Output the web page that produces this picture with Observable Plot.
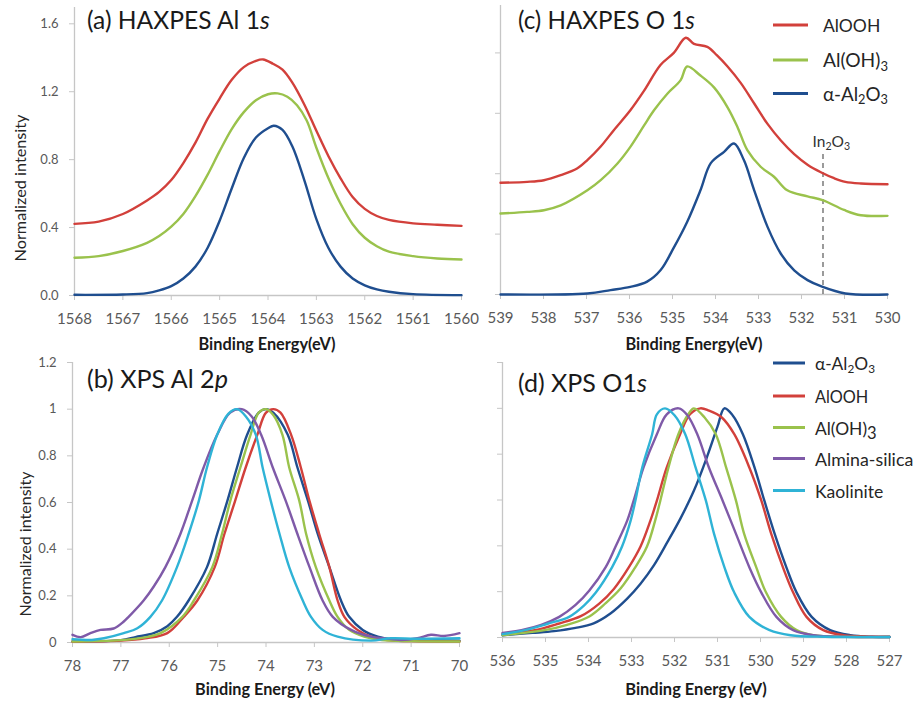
<!DOCTYPE html>
<html><head><meta charset="utf-8">
<script src="https://cdn.jsdelivr.net/npm/d3@7"></script>
<script src="https://cdn.jsdelivr.net/npm/@observablehq/plot@0.6"></script>
<style>
html,body{margin:0;padding:0;background:#fff;}
#wrap{position:relative;width:917px;height:702px;overflow:hidden;font-family:Lato,"Open Sans",sans-serif;}
#wrap svg{position:absolute;}
</style>
</head><body><div id="wrap"></div>
<script>
// ---------- colours ----------
const cBlue = "#1f4e8f", cRed = "#d2403b", cGreen = "#9ac24c", cPurple = "#7f5aa8", cCyan = "#2fb3d6";

// ---------- (a) HAXPES Al 1s ----------
const aTicksX = [1568,1567,1566,1565,1564,1563,1562,1561,1560];
const aTicksY = [0,0.4,0.8,1.2,1.6];
const aE_AlOOH = [1568,1567.5,1567,1566.5,1566.25,1566,1565.75,1565.5,1565.25,1565,1564.75,1564.5,1564.25,1564.1,1563.9,1563.7,1563.5,1563.25,1563,1562.75,1562.5,1562.25,1562,1561.75,1561.5,1561,1560.5,1560];
const aI_AlOOH = [0.422,0.435,0.48,0.56,0.61,0.68,0.78,0.9,1.04,1.16,1.27,1.345,1.382,1.39,1.365,1.33,1.255,1.125,0.97,0.82,0.69,0.58,0.51,0.468,0.445,0.425,0.417,0.41];
const aE_AlOH3 = [1568,1567.5,1567,1566.5,1566.25,1566,1565.75,1565.5,1565.25,1565,1564.75,1564.5,1564.25,1564,1563.8,1563.6,1563.4,1563.2,1563,1562.75,1562.5,1562.25,1562,1561.75,1561.5,1561,1560.5,1560];
const aI_AlOH3 = [0.222,0.232,0.262,0.31,0.35,0.405,0.48,0.585,0.71,0.85,0.98,1.08,1.15,1.185,1.19,1.17,1.12,1.03,0.87,0.69,0.54,0.42,0.34,0.29,0.258,0.232,0.218,0.212];
const aE_Al2O3 = [1568,1567,1566.5,1566.25,1566,1565.75,1565.5,1565.25,1565,1564.75,1564.5,1564.25,1564,1563.88,1563.7,1563.5,1563.25,1563,1562.75,1562.5,1562.25,1562,1561.75,1561.5,1561,1560];
const aI_Al2O3 = [0.004,0.006,0.014,0.03,0.055,0.1,0.17,0.28,0.44,0.63,0.81,0.93,0.985,1.0,0.975,0.88,0.68,0.45,0.28,0.17,0.1,0.06,0.036,0.022,0.008,0.002];

// ---------- (c) HAXPES O 1s ----------
const cTicksX = [539,538,537,536,535,534,533,532,531,530];
const cTicksY = [0,0.4,0.8,1.2,1.6];
const cE_AlOOH = [539,538.38,537.99,537.6,537.22,536.98,536.67,536.36,535.98,535.66,535.28,534.97,534.69,534.5,534.19,533.97,533.72,533.41,533.1,532.79,532.48,532.17,531.86,531.55,531.24,530.98,530.62,530];
const cI_AlOOH = [0.74,0.746,0.757,0.79,0.834,0.89,0.98,1.09,1.22,1.35,1.52,1.60,1.70,1.66,1.64,1.585,1.51,1.40,1.265,1.13,1.02,0.93,0.86,0.81,0.77,0.746,0.735,0.73];
const cE_AlOH3 = [539,538.38,537.99,537.6,536.98,536.67,536.28,535.98,535.66,535.43,535.12,534.81,534.66,534.35,534.03,533.72,533.49,533.26,532.95,532.64,532.33,531.86,531.51,531.01,530.62,530];
const cI_AlOH3 = [0.536,0.547,0.558,0.59,0.69,0.757,0.868,0.978,1.12,1.22,1.33,1.42,1.51,1.45,1.37,1.24,1.11,0.956,0.846,0.78,0.69,0.65,0.625,0.56,0.525,0.521];
const cE_Al2O3 = [539,536.98,536.44,535.98,535.59,535.28,534.97,534.66,534.35,534.11,533.8,533.57,533.34,533.1,532.79,532.48,532.17,531.86,531.55,530.98,530];
const cI_Al2O3 = [0,0.007,0.029,0.05,0.085,0.16,0.31,0.48,0.69,0.87,0.945,1.0,0.89,0.69,0.448,0.27,0.16,0.095,0.055,0.007,0];
const cIn2O3E = 531.5, cIn2O3Top = 0.94;

// ---------- (b) XPS Al 2p ----------
const bTicksX = [78,77,76,75,74,73,72,71,70];
const bTicksY = [0,0.2,0.4,0.6,0.8,1,1.2];
const bE_Al2O3 = [78,77,76.7,76.32,76.04,75.84,75.6,75.22,75.01,74.8,74.6,74.39,74.15,74.0,73.85,73.55,73.35,73.13,72.93,72.69,72.45,72.28,72.0,71.69,71.3,70.5,70];
const bI_Al2O3 = [0.005,0.01,0.023,0.04,0.07,0.11,0.18,0.323,0.465,0.606,0.75,0.89,0.985,1.0,0.985,0.89,0.75,0.606,0.465,0.323,0.18,0.11,0.054,0.025,0.01,0.01,0.008];
const bE_AlOOH = [78,77,76.5,76.04,75.7,75.42,75.06,74.86,74.64,74.42,74.18,74.0,73.85,73.7,73.48,73.28,73.1,72.9,72.69,72.52,72.38,72.11,71.83,71.5,71,70];
const bI_AlOOH = [0.003,0.008,0.018,0.04,0.11,0.18,0.323,0.465,0.606,0.75,0.89,0.985,1.0,0.985,0.89,0.75,0.606,0.465,0.323,0.18,0.11,0.054,0.025,0.01,0.006,0.004];
const bE_AlOH3 = [78,77,76.5,76.18,75.73,75.49,75.11,74.91,74.74,74.53,74.32,74.15,74.0,73.85,73.66,73.52,73.31,73.17,72.97,72.69,72.52,72.28,71.97,71.6,71,70];
const bI_AlOH3 = [0.004,0.01,0.022,0.04,0.11,0.18,0.323,0.465,0.606,0.75,0.89,0.985,1.0,0.975,0.89,0.75,0.606,0.465,0.323,0.18,0.11,0.054,0.025,0.01,0.006,0.004];
const bE_AlSi = [78,77.83,77.63,77.42,77.15,76.94,76.84,76.53,76.32,76.08,75.77,75.53,75.29,75.01,74.74,74.5,74.3,74.1,73.86,73.59,73.35,73.1,72.83,72.62,72.24,71.83,71.55,71.21,70.87,70.59,70.32,70];
const bI_AlSi = [0.033,0.023,0.04,0.054,0.06,0.09,0.11,0.18,0.24,0.323,0.465,0.606,0.75,0.89,0.985,1.0,0.97,0.89,0.75,0.606,0.465,0.323,0.18,0.11,0.054,0.025,0.018,0.011,0.018,0.033,0.028,0.04];
const bE_Kaol = [78,77.6,77.35,76.94,76.66,76.39,76.15,75.84,75.6,75.39,75.22,75.01,74.78,74.6,74.42,74.21,74.07,73.9,73.72,73.52,73.24,73.07,72.83,72.52,71.83,71.42,70.9,70];
const bI_Kaol = [0.014,0.011,0.018,0.04,0.061,0.11,0.18,0.323,0.465,0.606,0.75,0.89,0.98,1.0,0.97,0.89,0.75,0.606,0.465,0.323,0.18,0.11,0.054,0.025,0.008,0.018,0.016,0.018];

// ---------- (d) XPS O1s ----------
const dTicksX = [536,535,534,533,532,531,530,529,528,527];
const dTicksY = [0,0.2,0.4,0.6,0.8,1,1.2];
const dE_Al2O3 = [536,535.3,534.8,534.3,533.88,533.49,533.1,532.79,532.48,532.17,531.86,531.55,531.24,531.0,530.84,530.65,530.41,530.14,529.91,529.67,529.4,529.16,528.81,528.38,527.91,527.4,527];
const dI_Al2O3 = [0.01,0.02,0.028,0.042,0.062,0.105,0.17,0.235,0.315,0.415,0.52,0.64,0.79,0.92,1.0,0.97,0.887,0.742,0.597,0.452,0.307,0.196,0.09,0.032,0.01,0.003,0.002];
const dE_AlOOH = [536,535.25,534.7,534.18,533.75,533.41,533.06,532.79,532.56,532.41,532.18,531.87,531.64,531.4,531.2,530.9,530.61,530.26,529.98,529.75,529.48,529.24,528.93,528.54,528.07,527.5,527];
const dI_AlOOH = [0.015,0.032,0.06,0.093,0.148,0.212,0.307,0.397,0.51,0.597,0.742,0.887,0.974,1.0,0.99,0.96,0.887,0.742,0.597,0.452,0.307,0.196,0.09,0.032,0.01,0.004,0.003];
const dE_AlOH3 = [536,535.02,534.5,533.98,533.6,533.25,532.91,532.64,532.45,532.33,532.14,531.91,531.68,531.55,531.3,531.04,530.8,530.57,530.38,530.1,529.87,529.52,529.16,528.77,528,527];
const dI_AlOH3 = [0.01,0.032,0.055,0.092,0.15,0.215,0.307,0.397,0.51,0.597,0.742,0.887,0.974,1.0,0.96,0.887,0.742,0.597,0.452,0.307,0.196,0.09,0.032,0.01,0.003,0.002];
const dE_AlSi = [536,535.56,535.1,534.68,534.3,533.98,533.6,533.37,533.1,532.95,532.72,532.41,532.18,531.9,531.7,531.47,531.2,530.88,530.57,530.26,529.98,529.63,529.24,528.77,528,527];
const dI_AlSi = [0.02,0.032,0.055,0.09,0.142,0.205,0.307,0.397,0.51,0.597,0.742,0.887,0.974,1.0,0.97,0.887,0.742,0.597,0.452,0.307,0.196,0.09,0.032,0.01,0.003,0.002];
const dE_Kaol = [536,535.48,534.95,534.45,534.1,533.83,533.45,533.22,533.02,532.91,532.75,532.52,532.41,532.22,532.0,531.75,531.51,531.27,531.08,530.84,530.61,530.26,529.79,529.3,528.5,527];
const dI_Kaol = [0.015,0.032,0.06,0.09,0.14,0.196,0.307,0.397,0.51,0.597,0.742,0.887,0.974,1.0,0.97,0.887,0.742,0.597,0.452,0.307,0.196,0.09,0.032,0.01,0.003,0.002];

// ---------- drawing ----------
const wrap = document.getElementById("wrap");
const axisGray = "#c6c6c6", labelGray = "#595959";
function rows(E, I) { return E.map((e, i) => ({e, v: I[i]})); }

function panel(o) {
  const p = Plot.plot({
    width: o.w, height: o.h,
    marginLeft: o.ml, marginRight: o.mr, marginTop: o.mt, marginBottom: o.mb,
    x: {domain: o.xd, label: null},
    y: {domain: o.yd, label: null},
    style: {fontFamily: "Lato, 'Open Sans', sans-serif", background: "transparent", overflow: "visible"},
    marks: [
      Plot.ruleY([o.yd[0]], {stroke: axisGray, strokeWidth: 1.3}),
      Plot.ruleX([o.xd[0]], {stroke: axisGray, strokeWidth: 1.3}),
      Plot.axisX({ticks: o.xt, tickFormat: d => String(d), tickSize: 5, tickPadding: 13, fontSize: 15,
                  stroke: axisGray, fill: labelGray, label: null}),
      Plot.axisY({ticks: o.yt, tickFormat: o.ytf, tickSize: 5, tickPadding: 11, fontSize: 13,
                  stroke: axisGray, fill: labelGray, label: null}),
      ...(o.extra || []),
      ...o.series.map(s => Plot.line(rows(s.E, s.I), {x: "e", y: "v", stroke: s.color, strokeWidth: 2.4,
                                                       curve: "catmull-rom", strokeLinejoin: "round"}))
    ]
  });
  p.style.left = o.x0 + "px";
  p.style.top = o.y0 + "px";
  wrap.appendChild(p);
  return p;
}

const pa = panel({x0: 0, y0: 0, w: 470, h: 340, ml: 74, mr: 9, mt: 7, mb: 45,
  xd: [1568, 1560], yd: [0, 1.696], xt: aTicksX, yt: aTicksY, ytf: d3.format(".1f"),
  series: [{E: aE_AlOOH, I: aI_AlOOH, color: cRed}, {E: aE_AlOH3, I: aI_AlOH3, color: cGreen},
           {E: aE_Al2O3, I: aI_Al2O3, color: cBlue}]});

const pc = panel({x0: 460, y0: 0, w: 457, h: 340, ml: 40, mr: 30, mt: 5, mb: 46,
  xd: [539, 530], yd: [0, 1.914], xt: cTicksX, yt: cTicksY, ytf: () => "",
  extra: [Plot.ruleX([cIn2O3E], {y1: 0, y2: cIn2O3Top, stroke: "#666", strokeWidth: 1.3, strokeDasharray: "5,4"})],
  series: [{E: cE_AlOOH, I: cI_AlOOH, color: cRed}, {E: cE_AlOH3, I: cI_AlOH3, color: cGreen},
           {E: cE_Al2O3, I: cI_Al2O3, color: cBlue}]});

const pb = panel({x0: 0, y0: 340, w: 470, h: 362, ml: 72, mr: 11, mt: 22, mb: 60,
  xd: [78, 70], yd: [0, 1.2], xt: bTicksX, yt: bTicksY, ytf: d => String(d),
  series: [{E: bE_Al2O3, I: bI_Al2O3, color: cBlue}, {E: bE_AlOOH, I: bI_AlOOH, color: cRed},
           {E: bE_AlOH3, I: bI_AlOH3, color: cGreen}, {E: bE_AlSi, I: bI_AlSi, color: cPurple},
           {E: bE_Kaol, I: bI_Kaol, color: cCyan}]});

const pd = panel({x0: 460, y0: 340, w: 457, h: 362, ml: 42, mr: 28, mt: 22, mb: 65,
  xd: [536, 527], yd: [0, 1.2], xt: dTicksX, yt: dTicksY, ytf: () => "",
  series: [{E: dE_Al2O3, I: dI_Al2O3, color: cBlue}, {E: dE_AlOOH, I: dI_AlOOH, color: cRed},
           {E: dE_AlOH3, I: dI_AlOH3, color: cGreen}, {E: dE_AlSi, I: dI_AlSi, color: cPurple},
           {E: dE_Kaol, I: dI_Kaol, color: cCyan}]});

// ---------- text overlay (titles, axis titles, legends) ----------
const ov = d3.select(wrap).append("svg").attr("width", 917).attr("height", 702)
  .style("left", "0px").style("top", "0px").style("pointer-events", "none")
  .attr("font-family", "Lato, 'Open Sans', sans-serif");

function addText(o) {
  const t = ov.append("text").attr("x", o.x).attr("y", o.y)
    .attr("font-size", o.size).attr("fill", o.fill || "#1a1a1a")
    .attr("text-anchor", o.anchor || "start");
  if (o.bold) t.attr("font-weight", "bold");
  if (o.rotate) t.attr("transform", `rotate(-90 ${o.x} ${o.y})`);
  let down = false;
  for (const [s, k] of o.parts) {
    const ts = t.append("tspan").text(s);
    if (k === "i") ts.attr("font-style", "italic");
    if (k === "sub") { ts.attr("font-size", (o.subScale || 0.68) + "em").attr("dy", down ? 0 : "0.28em"); down = true; }
    else if (down) { ts.attr("dy", "-0.19em"); down = false; }
  }
  if (o.w) {
    const len = t.node().getComputedTextLength();
    if (len > 0) t.attr("font-size", o.size * o.w / len);
  }
  return t;
}

// panel titles
addText({x: 87, y: 28.5, size: 24, w: 183, parts: [["(a) HAXPES Al 1", ""], ["s", "i"]]});
addText({x: 518, y: 29, size: 24, w: 177, parts: [["(c) HAXPES O 1", ""], ["s", "i"]]});
addText({x: 87, y: 387.5, size: 24, w: 141, parts: [["(b) XPS Al 2", ""], ["p", "i"]]});
addText({x: 518, y: 391.5, size: 24, w: 129, parts: [["(d) XPS O1", ""], ["s", "i"]]});

// axis titles
addText({x: 267, y: 350, size: 15, w: 137, bold: true, anchor: "middle", parts: [["Binding Energy(eV)", ""]]});
addText({x: 694, y: 350, size: 15, w: 137, bold: true, anchor: "middle", parts: [["Binding Energy(eV)", ""]]});
addText({x: 265, y: 695, size: 15, w: 140, bold: true, anchor: "middle", parts: [["Binding Energy (eV)", ""]]});
addText({x: 696, y: 695, size: 15, w: 141.7, bold: true, anchor: "middle", parts: [["Binding Energy (eV)", ""]]});
addText({x: 25.5, y: 188, size: 15, w: 147, rotate: true, anchor: "middle", fill: "#262626", parts: [["Normalized intensity", ""]]});
addText({x: 31, y: 544, size: 15, w: 145, rotate: true, anchor: "middle", fill: "#262626", parts: [["Normalized intensity", ""]]});

// In2O3 marker label, positioned through panel (c)'s x scale
const xIn = 460 + pc.scale("x").apply(cIn2O3E);
addText({x: xIn - 10, y: 146.7, size: 13, w: 37.6, fill: "#333", parts: [["In", ""], ["2", "sub"], ["O", ""], ["3", "sub"]]});

// legends
function legend(items, x1, x2, tx, ys, dyText, widths, size) {
  items.forEach((it, i) => {
    ov.append("line").attr("x1", x1).attr("x2", x2).attr("y1", ys[i]).attr("y2", ys[i])
      .attr("stroke", it.color).attr("stroke-width", 3);
    addText({x: tx, y: ys[i] + dyText, size, w: widths[i], fill: "#262626", parts: it.parts, subScale: it.subScale});
  });
}
legend([
  {color: cRed, parts: [["AlOOH", ""]]},
  {color: cGreen, parts: [["Al(OH)", ""], ["3", "sub"]]},
  {color: cBlue, parts: [["\u03b1-Al", ""], ["2", "sub"], ["O", ""], ["3", "sub"]]}
], 773, 808, 823, [25, 60, 93.5], 7.3, [57.3, 65, 65], 17);

legend([
  {color: cBlue, parts: [["\u03b1-Al", ""], ["2", "sub"], ["O", ""], ["3", "sub"]]},
  {color: cRed, parts: [["AlOOH", ""]]},
  {color: cGreen, parts: [["Al(OH)", ""], ["3", "sub"]], subScale: 0.95},
  {color: cPurple, parts: [["Almina-silica", ""]]},
  {color: cCyan, parts: [["Kaolinite", ""]]}
], 773, 805, 815, [363, 396, 427.5, 458.5, 490.5], 7, [60, 53.3, 61.7, 98.3, 68.3], 16);
</script>
</body></html>
